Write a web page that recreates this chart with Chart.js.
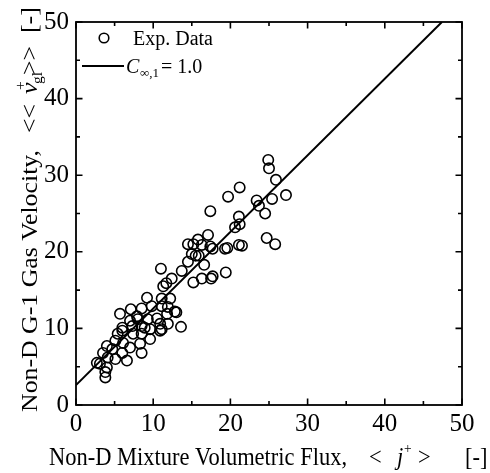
<!DOCTYPE html>
<html>
<head>
<meta charset="utf-8">
<script src="https://cdn.jsdelivr.net/npm/chart.js@4"></script>
<style>
html,body{margin:0;padding:0;background:#fff;}
#wrap{width:490px;height:473px;position:relative;}
</style>
</head>
<body>
<div id="wrap"><canvas id="c" width="490" height="473"></canvas></div>
<script>
// Experimental data: non-D mixture volumetric flux <j+> and G-1 gas velocity <<vg1+>>
const expJ = [
 24.9,25.0,25.9,27.2,25.4,23.4,23.7,24.5,21.2,19.7,17.4,21.1,21.2,20.6,17.1,24.7,25.8,21.1,21.5,19.3,
 19.6,17.7,14.5,15.8,16.3,17.4,15.0,15.9,14.5,16.6,11.0,13.7,12.4,11.7,11.3,15.2,16.3,17.5,17.7,19.4,
 9.2,11.1,12.2,5.7,7.1,8.5,11.9,13.0,13.6,11.1,9.8,7.9,9.3,10.5,11.8,10.9,11.9,11.1,7.3,8.5,
 9.6,6.0,7.4,9.6,5.1,6.1,8.3,7.0,8.5,4.0,4.7,3.5,6.0,4.1,6.6,5.1,3.1,4.0,3.8,3.8,
 2.7,7.0,8.0,8.9,10.9,5.4,8.5,6.0,12.8,15.5,15.2
];
const expVg = [
 32.0,30.9,29.4,27.4,26.9,26.7,26.0,25.0,28.4,27.2,25.3,24.6,23.6,23.2,22.2,21.8,21.0,20.9,20.8,20.4,
 20.5,20.4,21.0,21.6,20.9,20.7,19.7,19.5,18.7,18.3,17.8,17.5,16.5,15.9,15.5,16.0,16.5,16.5,16.8,17.3,
 14.0,13.9,13.9,11.9,12.5,12.6,12.8,12.1,10.2,12.9,12.9,11.6,11.2,11.3,11.9,10.6,10.6,9.9,10.3,10.3,
 9.9,9.7,9.3,8.6,8.4,8.1,8.0,7.5,6.8,7.7,7.3,6.8,6.8,6.2,5.8,6.0,5.4,4.9,4.3,3.6,
 5.5,11.0,11.2,10.1,9.7,9.3,9.3,10.1,12.2,19.5,21.0
];
// Drift-flux model line, C_inf,1 = 1.0 (end points)
const modelJ = [0, 47.4];
const modelVg = [2.6, 50];
// Axis ticks
const xTicks = [0, 10, 20, 30, 40, 50];
const yTicks = [0, 10, 20, 30, 40, 50];
const minorStep = 5;

const SERIF = '"Liberation Serif", "Times New Roman", serif';
const SQ = 0.89; // glyph width / height ratio of the original figure text

// draw text at (x,y) squeezed along its writing direction
function txt(ctx, t, font, x, y, sx){
  ctx.save();
  ctx.translate(x, y);
  ctx.scale(sx, 1);
  ctx.font = font;
  ctx.fillText(t, 0, 0);
  ctx.restore();
}
// draw text whose glyph height (not length) is squeezed
function txtV(ctx, t, font, x, y, sy){
  ctx.save();
  ctx.translate(x, y);
  ctx.scale(1, sy);
  ctx.font = font;
  ctx.fillText(t, 0, 0);
  ctx.restore();
}

const decor = {
  id: 'decor',
  afterDraw(chart){
    const ctx = chart.ctx;
    const a = chart.chartArea;
    const xs = chart.scales.x, ys = chart.scales.y;
    ctx.save();
    ctx.strokeStyle = '#000';
    ctx.lineWidth = 1.8;
    ctx.strokeRect(a.left, a.top, a.right - a.left, a.bottom - a.top);
    ctx.lineWidth = 1.6;
    for (let v = 0; v <= 50; v += minorStep){
      const len = (v % 10 === 0) ? 6.5 : 4;
      const px = xs.getPixelForValue(v);
      const py = ys.getPixelForValue(v);
      ctx.beginPath();
      ctx.moveTo(px, a.bottom); ctx.lineTo(px, a.bottom - len);
      ctx.moveTo(px, a.top); ctx.lineTo(px, a.top + len);
      ctx.moveTo(a.left, py); ctx.lineTo(a.left + len, py);
      ctx.moveTo(a.right, py); ctx.lineTo(a.right - len, py);
      ctx.stroke();
    }
    ctx.fillStyle = '#000';
    ctx.textBaseline = 'alphabetic';
    ctx.textAlign = 'left';
    // Legend
    ctx.lineWidth = 1.6;
    ctx.beginPath(); ctx.arc(104, 38, 4.8, 0, Math.PI*2); ctx.stroke();
    ctx.font = '20px ' + SERIF;
    ctx.fillText('Exp. Data', 133, 45);
    ctx.lineWidth = 2;
    ctx.beginPath(); ctx.moveTo(82, 66); ctx.lineTo(124, 66); ctx.stroke();
    ctx.font = 'italic 20px ' + SERIF;
    ctx.fillText('C', 126, 73);
    ctx.font = '13px ' + SERIF;
    ctx.fillText('\u221E,1', 140, 77);
    ctx.font = '20px ' + SERIF;
    ctx.fillText(' = 1.0', 156, 73);

    // X axis title
    const xt = 'Non-D Mixture Volumetric Flux,';
    const FX = '25px ' + SERIF;
    ctx.font = FX;
    const sx = 298 / ctx.measureText(xt).width;
    const bx = 465;
    txt(ctx, xt, FX, 49, bx, sx);
    txt(ctx, '<', FX, 369, bx, sx);
    txt(ctx, 'j', 'italic ' + FX, 397, bx, sx);
    txt(ctx, '+', '15px ' + SERIF, 404, bx - 12, sx);
    txt(ctx, '>', FX, 418, bx, sx);
    txt(ctx, '[-]', FX, 465, bx, sx);

    // Y axis title (rotated)
    ctx.save();
    ctx.translate(37, 412);
    ctx.rotate(-Math.PI/2);
    const yt = 'Non-D G-1 Gas Velocity,';
    ctx.font = '20px ' + SERIF;
    const fy = 20 * 262 / ctx.measureText(yt).width;
    const FY = fy.toFixed(1) + 'px ' + SERIF;
    const FS = (fy*0.6).toFixed(1) + 'px ' + SERIF;
    txtV(ctx, yt, FY, 0, 0, SQ);
    txtV(ctx, '<<', FY, 279, 0, SQ);
    txtV(ctx, 'v', 'italic ' + FY, 318, 0, SQ);
    txtV(ctx, '+', FS, 322, -12, SQ);
    txtV(ctx, 'gl', FS, 328, 5, SQ);
    txtV(ctx, '>>', FY, 337, 0, SQ);
    txtV(ctx, '[-]', FY, 379, 0, SQ);
    ctx.restore();
    ctx.restore();
  }
};

new Chart(document.getElementById('c'), {
  type: 'scatter',
  data: {
    datasets: [
      {
        label: 'Exp. Data',
        data: expJ.map((x, i) => ({x, y: expVg[i]})),
        pointStyle: 'circle',
        pointRadius: 5.2,
        pointBorderWidth: 1.6,
        borderColor: '#000',
        backgroundColor: 'rgba(0,0,0,0)',
        showLine: false
      },
      {
        label: 'C_inf,1 = 1.0',
        type: 'line',
        data: modelJ.map((x, i) => ({x, y: modelVg[i]})),
        borderColor: '#000',
        borderWidth: 2,
        pointRadius: 0,
        fill: false,
        tension: 0
      }
    ]
  },
  plugins: [decor],
  options: {
    responsive: false,
    animation: false,
    devicePixelRatio: 1,
    layout: { padding: { left: 0, top: 17, right: 28, bottom: 0 } },
    plugins: { legend: { display: false }, tooltip: { enabled: false } },
    scales: {
      x: {
        type: 'linear', min: 0, max: 50,
        afterFit(s){ s.height = 68; },
        afterBuildTicks(s){ s.ticks = xTicks.map(v => ({value: v})); },
        grid: { display: false, drawTicks: false },
        border: { display: false },
        ticks: { color: '#000', font: { family: SERIF, size: 25 }, padding: 4, maxRotation: 0 }
      },
      y: {
        type: 'linear', min: 0, max: 50,
        afterFit(s){ s.width = 76; },
        afterBuildTicks(s){ s.ticks = yTicks.map(v => ({value: v})); },
        grid: { display: false, drawTicks: false },
        border: { display: false },
        ticks: { color: '#000', font: { family: SERIF, size: 25 }, padding: 7 }
      }
    }
  }
});
</script>
</body>
</html>
